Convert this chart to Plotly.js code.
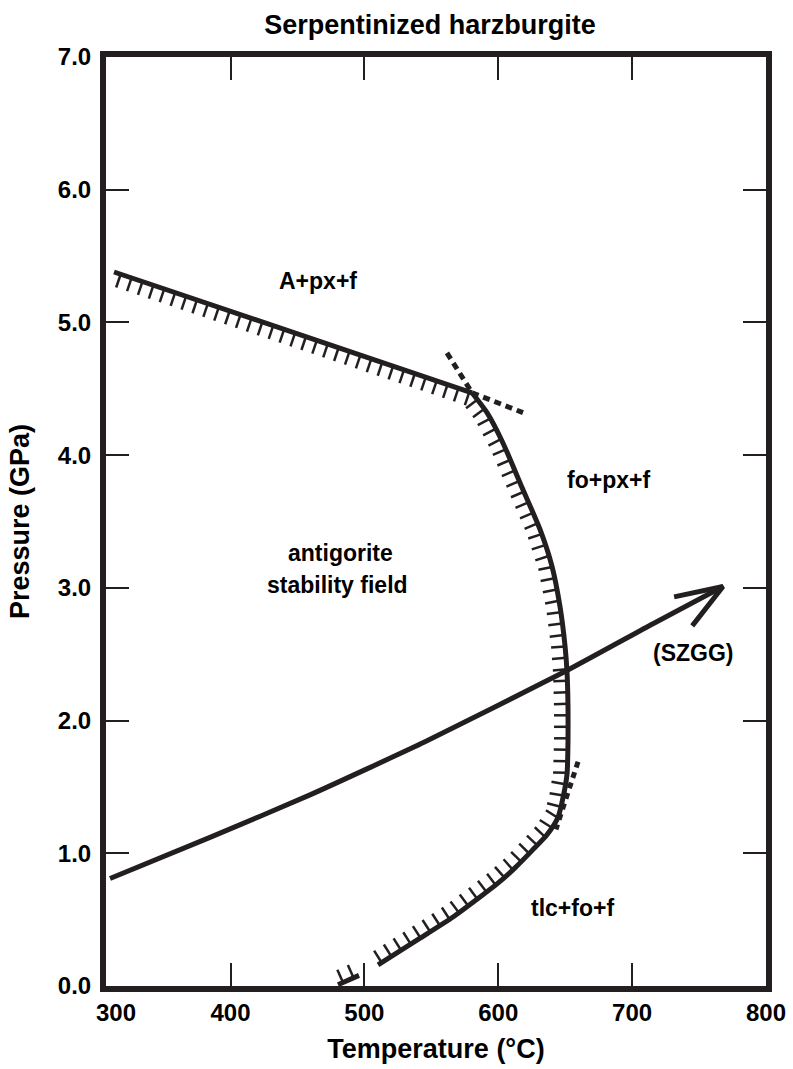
<!DOCTYPE html>
<html><head><meta charset="utf-8">
<script src="https://cdn.plot.ly/plotly-3.0.1.min.js"></script>
<style>html,body{margin:0;padding:0;background:#fff}#chart{width:793px;height:1069px}</style>
</head><body><div id="chart"></div>
<script>
// ---------- data ----------
const xTickVals = [307, 400, 500, 600, 700, 800];
const xTickText = ["\u00a0\u00a0\u00a0300", "400", "500", "600", "700", "800"];
const yTickVals = [0, 1, 2, 3, 4, 5, 6, 7];
const yTickText = ["0.0", "1.0", "2.0", "3.0", "4.0", "5.0", "6.0", "7.0"];

// antigorite stability boundary (T in °C, P in GPa): straight high-P limb, then curved limb
const upperLimbT = [313.0, 580.4];
const upperLimbP = [5.38, 4.47];
const curvedLimbT = [580.4, 591.6, 603.6, 616.3, 631.2, 640.2, 646.1, 649.9, 651.4, 652.1, 652.1, 651.4, 648.4, 644.6, 636.4, 625.2, 612.5, 599.1, 584.9, 566.2, 541.6, 510.2];
const curvedLimbP = [4.47, 4.32, 4.09, 3.79, 3.44, 3.16, 2.86, 2.56, 2.36, 2.10, 1.85, 1.60, 1.42, 1.27, 1.14, 1.02, 0.89, 0.77, 0.66, 0.52, 0.36, 0.16];
const boundaryTailT = [496.0, 480.3];
const boundaryTailP = [0.08, 0.01];

// metastable (dashed) extensions
const dash1T = [561.7, 580.4], dash1P = [4.77, 4.47];
const dash2T = [580.4, 618.5], dash2P = [4.47, 4.32];
const dash3T = [659.6, 643.1], dash3P = [1.69, 1.18];

// subduction-zone geotherm (SZGG)
const geothermT = [310.0, 384.7, 459.4, 545.3, 649.9, 715.6, 767.9];
const geothermP = [0.81, 1.12, 1.44, 1.84, 2.37, 2.73, 3.01];

// field labels
const labelText = ["A+px+f", "fo+px+f", "antigorite", "stability field", "(SZGG)", "tlc+fo+f"];
const labelT = [465.4, 682.7, 481.8, 479.6, 745.5, 655.1];
const labelP = [5.31, 3.81, 3.26, 3.02, 2.51, 0.59];

// ---------- layout geometry ----------
const FIG_W = 793, FIG_H = 1069;
const M = {l: 106, r: 27, t: 57, b: 83};
const PW = FIG_W - M.l - M.r, PH = FIG_H - M.t - M.b;
const XR = [307, 800], YR = [0, 7];
const INK = '#231f20';
const FONT = 'Liberation Sans, Arial, Helvetica, sans-serif';

function toPx(T, P) {
  return [M.l + (T - XR[0]) / (XR[1] - XR[0]) * PW, M.t + (YR[1] - P) / (YR[1] - YR[0]) * PH];
}
function fromPx(x, y) {
  return [XR[0] + (x - M.l) / PW * (XR[1] - XR[0]), YR[1] - (y - M.t) / PH * (YR[1] - YR[0])];
}

// hatch ticks on the right-hand side of the walking direction
function hatches(Ts, Ps, spacing, len, offset) {
  const pts = Ts.map((t, i) => toPx(t, Ps[i]));
  const hx = [], hy = [];
  let next = offset, acc = 0;
  for (let i = 0; i < pts.length - 1; i++) {
    const [x0, y0] = pts[i], [x1, y1] = pts[i + 1];
    const dx = x1 - x0, dy = y1 - y0, L = Math.hypot(dx, dy);
    if (L === 0) continue;
    const ux = dx / L, uy = dy / L, nx = -uy, ny = ux;
    while (next <= acc + L) {
      const s = next - acc;
      const px = x0 + ux * s, py = y0 + uy * s;
      const a = fromPx(px, py), b = fromPx(px + nx * len, py + ny * len);
      hx.push(a[0], b[0], null); hy.push(a[1], b[1], null);
      next += spacing;
    }
    acc += L;
  }
  return {hx, hy};
}

// open arrowhead at the end of the geotherm
function arrowHead(Ts, Ps, len, angA, angB) {
  const n = Ts.length;
  const tip = toPx(Ts[n - 1], Ps[n - 1]);
  const prev = toPx(Ts[n - 2], Ps[n - 2]);
  const back = Math.atan2(prev[1] - tip[1], prev[0] - tip[0]);
  const w = a => fromPx(tip[0] + len * Math.cos(back + a), tip[1] + len * Math.sin(back + a));
  const p1 = w(angA * Math.PI / 180), p2 = w(angB * Math.PI / 180);
  return {x: [p1[0], Ts[n - 1], p2[0]], y: [p1[1], Ps[n - 1], p2[1]]};
}

const bT = upperLimbT.concat(curvedLimbT.slice(1));
const bP = upperLimbP.concat(curvedLimbP.slice(1));
const h1 = hatches(bT, bP, 11.5, 14, 7);
const h2 = hatches(boundaryTailT, boundaryTailP, 11.5, 14, 6);
const ah = arrowHead(geothermT, geothermP, 50, 16, -24);

const base = {type: 'scatter', mode: 'lines', showlegend: false, hoverinfo: 'skip'};
const traces = [
  Object.assign({}, base, {x: h1.hx, y: h1.hy, line: {color: INK, width: 2.5}}),
  Object.assign({}, base, {x: h2.hx, y: h2.hy, line: {color: INK, width: 2.5}}),
  Object.assign({}, base, {x: upperLimbT, y: upperLimbP, line: {color: INK, width: 5}}),
  Object.assign({}, base, {x: curvedLimbT, y: curvedLimbP, line: {color: INK, width: 5, shape: 'spline', smoothing: 0.6}}),
  Object.assign({}, base, {x: boundaryTailT, y: boundaryTailP, line: {color: INK, width: 5}}),
  Object.assign({}, base, {x: dash1T, y: dash1P, line: {color: INK, width: 5, dash: '7px,5px'}}),
  Object.assign({}, base, {x: dash2T, y: dash2P, line: {color: INK, width: 5, dash: '7px,5px'}}),
  Object.assign({}, base, {x: dash3T, y: dash3P, line: {color: INK, width: 5, dash: '6px,5px'}}),
  Object.assign({}, base, {x: geothermT, y: geothermP, line: {color: INK, width: 5, shape: 'spline', smoothing: 0.5}}),
  Object.assign({}, base, {x: ah.x, y: ah.y, line: {color: INK, width: 5}})
];

const annotations = labelText.map((t, i) => ({
  x: labelT[i], y: labelP[i], xref: 'x', yref: 'y', text: t, showarrow: false,
  xanchor: 'center', yanchor: 'middle',
  font: {family: FONT, size: 23, color: '#000', weight: 'bold'}
}));

const axisCommon = {
  showline: true, linewidth: 6, linecolor: INK, mirror: 'ticks',
  ticks: 'inside', ticklen: 23, tickwidth: 2, tickcolor: INK,
  showgrid: false, zeroline: false, automargin: false, fixedrange: true,
  tickfont: {family: FONT, size: 24, color: '#000', weight: 'bold'}
};

const layout = {
  width: FIG_W, height: FIG_H,
  margin: M,
  paper_bgcolor: '#fff', plot_bgcolor: '#fff',
  title: {
    text: 'Serpentinized harzburgite',
    font: {family: FONT, size: 27, color: '#000', weight: 'bold'},
    xref: 'container', x: 430 / FIG_W, xanchor: 'center',
    yref: 'container', y: 1 - 25 / FIG_H, yanchor: 'middle'
  },
  xaxis: Object.assign({}, axisCommon, {
    range: XR, tickmode: 'array', tickvals: xTickVals, ticktext: xTickText,
    title: {text: 'Temperature (°C)', standoff: 16, font: {family: FONT, size: 27, color: '#000', weight: 'bold'}}
  }),
  yaxis: Object.assign({}, axisCommon, {
    range: YR, tickmode: 'array', tickvals: yTickVals, ticktext: yTickText,
    ticklabelstandoff: 4,
    title: {text: 'Pressure (GPa)', standoff: 22, font: {family: FONT, size: 27, color: '#000', weight: 'bold'}}
  }),
  annotations: annotations
};

Plotly.newPlot('chart', traces, layout, {displayModeBar: false, staticPlot: true});
</script>
</body></html>
